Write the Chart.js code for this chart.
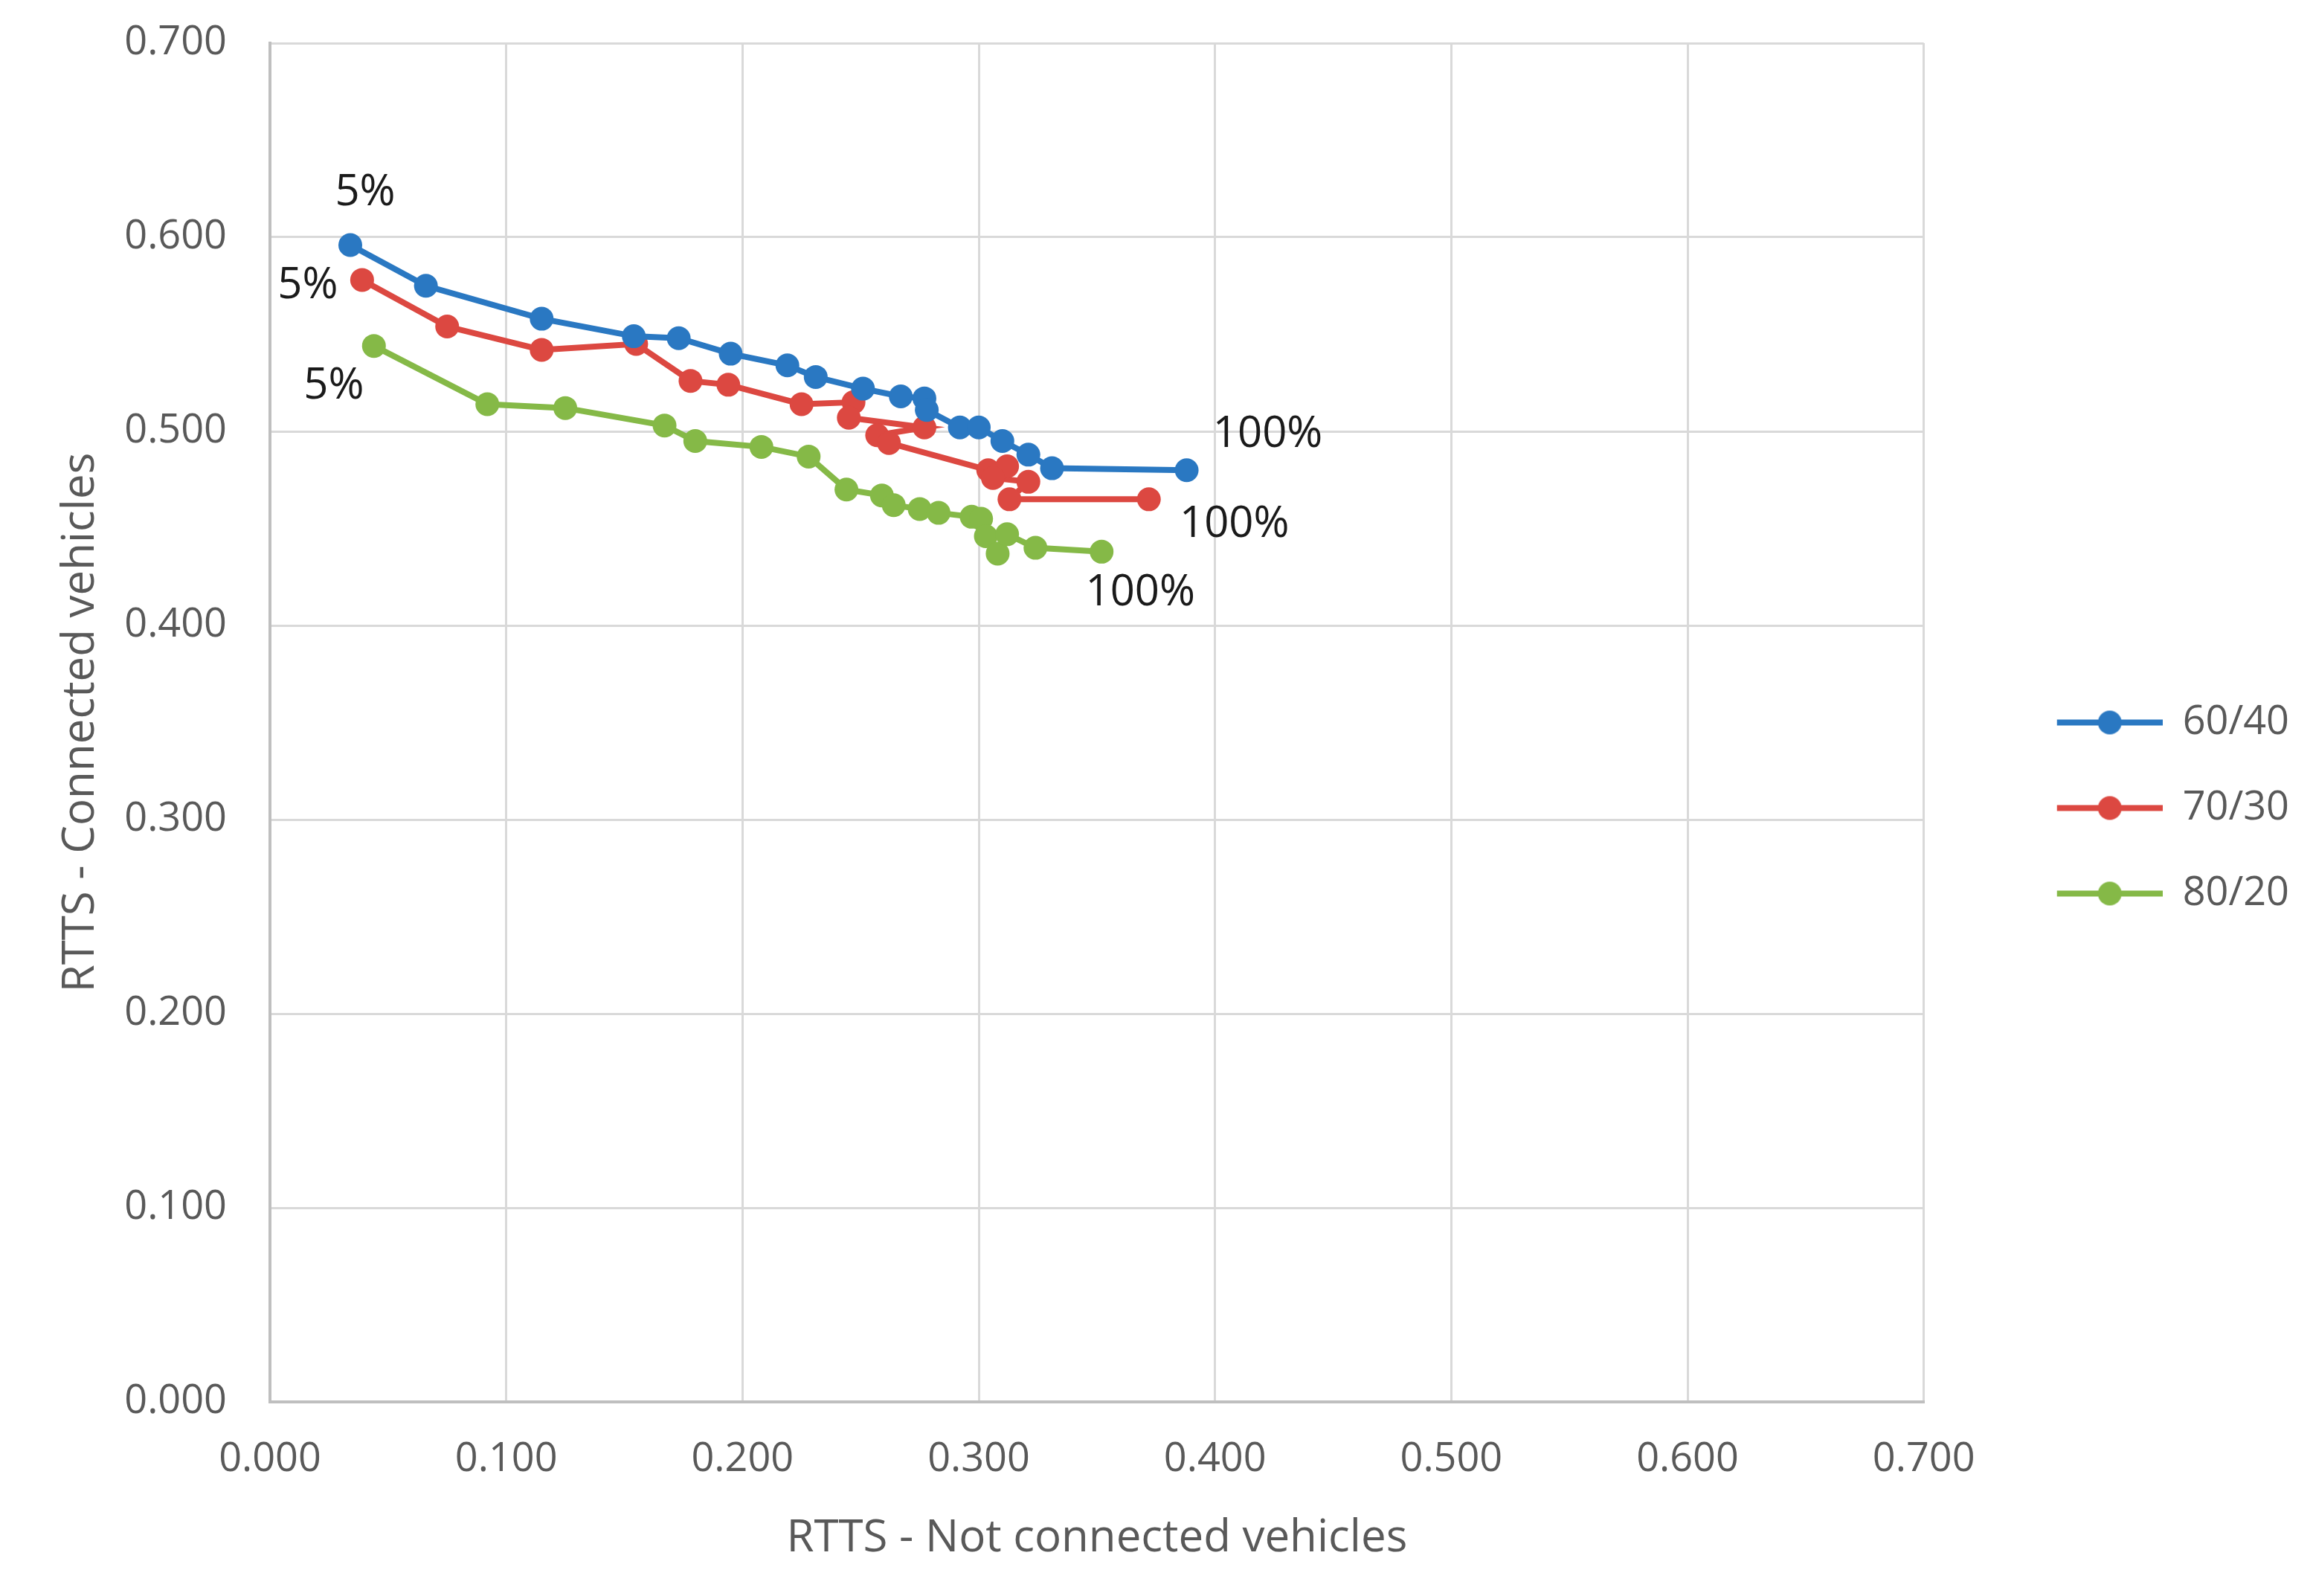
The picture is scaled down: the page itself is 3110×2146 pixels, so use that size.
<!DOCTYPE html>
<html>
<head>
<meta charset="utf-8">
<script src="https://cdn.jsdelivr.net/npm/chart.js@4.4.1/dist/chart.umd.min.js"></script>
<style>
  html, body { margin: 0; padding: 0; background: #ffffff; }
  canvas { display: block; }
</style>
</head>
<body>
<canvas id="rttsChart" width="3110" height="2146"></canvas>
<script>
// series names
const seriesNames = ['60/40', '70/30', '80/20'];

// 60/40
const x6040 = [0.034, 0.066, 0.115, 0.154, 0.173, 0.195, 0.219, 0.231, 0.251, 0.267, 0.277, 0.278, 0.292, 0.300, 0.310, 0.321, 0.331, 0.388];
const y6040 = [0.596, 0.575, 0.558, 0.549, 0.548, 0.540, 0.534, 0.528, 0.522, 0.518, 0.517, 0.511, 0.502, 0.502, 0.495, 0.488, 0.481, 0.480];

// 70/30
const x7030 = [0.039, 0.075, 0.115, 0.155, 0.178, 0.194, 0.225, 0.247, 0.245, 0.277, 0.257, 0.262, 0.304, 0.312, 0.306, 0.321, 0.313, 0.372];
const y7030 = [0.578, 0.554, 0.542, 0.545, 0.526, 0.524, 0.514, 0.515, 0.507, 0.502, 0.498, 0.494, 0.480, 0.482, 0.476, 0.474, 0.465, 0.465];

// 80/20
const x8020 = [0.044, 0.092, 0.125, 0.167, 0.180, 0.208, 0.228, 0.244, 0.259, 0.264, 0.275, 0.283, 0.297, 0.301, 0.303, 0.308, 0.312, 0.324, 0.352];
const y8020 = [0.544, 0.514, 0.512, 0.503, 0.495, 0.492, 0.487, 0.470, 0.467, 0.462, 0.460, 0.458, 0.456, 0.455, 0.446, 0.437, 0.447, 0.440, 0.438];

// end labels (first and last point of each series)
const startLabels = ['5%', '5%', '5%'];
const endLabels = ['100%', '100%', '100%'];

const colors = ['#2a78c2', '#dc4841', '#85b947'];
const textGrey = '#595959';
const fontFamily = "'Open Sans', 'Liberation Sans', sans-serif";

function toPoints(xs, ys) {
    return xs.map((x, i) => ({ x: x, y: ys[i] }));
}

// legend marker: line with a dot, left part left empty as a gap
function legendMarker(color) {
    const c = document.createElement('canvas');
    c.width = 260;
    c.height = 36;
    const g = c.getContext('2d');
    g.strokeStyle = color;
    g.lineWidth = 8;
    g.beginPath();
    g.moveTo(118, 18);
    g.lineTo(260, 18);
    g.stroke();
    g.fillStyle = color;
    g.beginPath();
    g.arc(189, 18, 16, 0, Math.PI * 2);
    g.fill();
    return c;
}

// where the % labels sit relative to their point
const labelOffsets = {
    start: [[20, -70], [-73, 8], [-54, 54]],
    end: [[109, -48], [115, 34], [52, 56]]
};

const pointLabels = {
    id: 'pointLabels',
    afterDatasetsDraw(chart) {
        const ctx = chart.ctx;
        ctx.save();
        ctx.font = '58px ' + fontFamily;
        ctx.fillStyle = '#1a1a1a';
        ctx.textAlign = 'center';
        ctx.textBaseline = 'middle';
        chart.data.datasets.forEach((ds, i) => {
            const pts = chart.getDatasetMeta(i).data;
            const first = pts[0];
            const last = pts[pts.length - 1];
            ctx.fillText(startLabels[i], first.x + labelOffsets.start[i][0], first.y + labelOffsets.start[i][1]);
            ctx.fillText(endLabels[i], last.x + labelOffsets.end[i][0], last.y + labelOffsets.end[i][1]);
        });
        ctx.restore();
    }
};

const allX = [x6040, x7030, x8020];
const allY = [y6040, y7030, y8020];

const datasets = seriesNames.map((name, i) => ({
    label: name,
    data: toPoints(allX[i], allY[i]),
    showLine: true,
    borderColor: colors[i],
    backgroundColor: colors[i],
    borderWidth: 8,
    pointRadius: 16,
    pointHoverRadius: 16,
    pointBorderWidth: 0,
    tension: 0
}));

const ctx = document.getElementById('rttsChart').getContext('2d');

window.myChart = new Chart(ctx, {
    type: 'scatter',
    data: { datasets: datasets },
    plugins: [pointLabels],
    options: {
        responsive: false,
        animation: false,
        layout: {
            padding: { top: 27, right: 22, bottom: 0, left: 0 }
        },
        plugins: {
            tooltip: { enabled: false },
            legend: {
                position: 'right',
                labels: {
                    usePointStyle: true,
                    pointStyleWidth: 260,
                    padding: 61,
                    color: textGrey,
                    font: { size: 54, family: fontFamily },
                    generateLabels(chart) {
                        return chart.data.datasets.map((ds, i) => ({
                            text: ds.label,
                            pointStyle: legendMarker(colors[i]),
                            fillStyle: colors[i],
                            strokeStyle: colors[i],
                            lineWidth: 0,
                            fontColor: textGrey,
                            hidden: false,
                            datasetIndex: i
                        }));
                    }
                }
            }
        },
        scales: {
            x: {
                type: 'linear',
                min: 0,
                max: 0.7,
                afterFit: (scale) => { scale.height = 261; },
                grid: { color: '#d9d9d9', lineWidth: 3, drawTicks: false },
                border: { color: '#bfbfbf', width: 4 },
                ticks: {
                    stepSize: 0.1,
                    padding: 45,
                    color: textGrey,
                    font: { size: 54, family: fontFamily },
                    callback: (v) => v.toFixed(3)
                },
                title: {
                    display: true,
                    text: 'RTTS - Not connected vehicles',
                    color: textGrey,
                    font: { size: 60, family: fontFamily },
                    padding: { top: 0, bottom: 41 }
                }
            },
            y: {
                type: 'linear',
                min: 0,
                max: 0.7,
                afterFit: (scale) => {
                    scale.width = 363;
                    scale.paddingTop = 58;
                },
                grid: { color: '#d9d9d9', lineWidth: 3, drawTicks: false },
                border: { color: '#bfbfbf', width: 4 },
                ticks: {
                    stepSize: 0.1,
                    padding: 58,
                    color: textGrey,
                    font: { size: 54, family: fontFamily },
                    callback: (v) => v.toFixed(3)
                },
                title: {
                    display: true,
                    text: 'RTTS - Connected vehicles',
                    color: textGrey,
                    font: { size: 60, family: fontFamily },
                    padding: { top: 73, bottom: 0 }
                }
            }
        }
    }
});
</script>
</body>
</html>
